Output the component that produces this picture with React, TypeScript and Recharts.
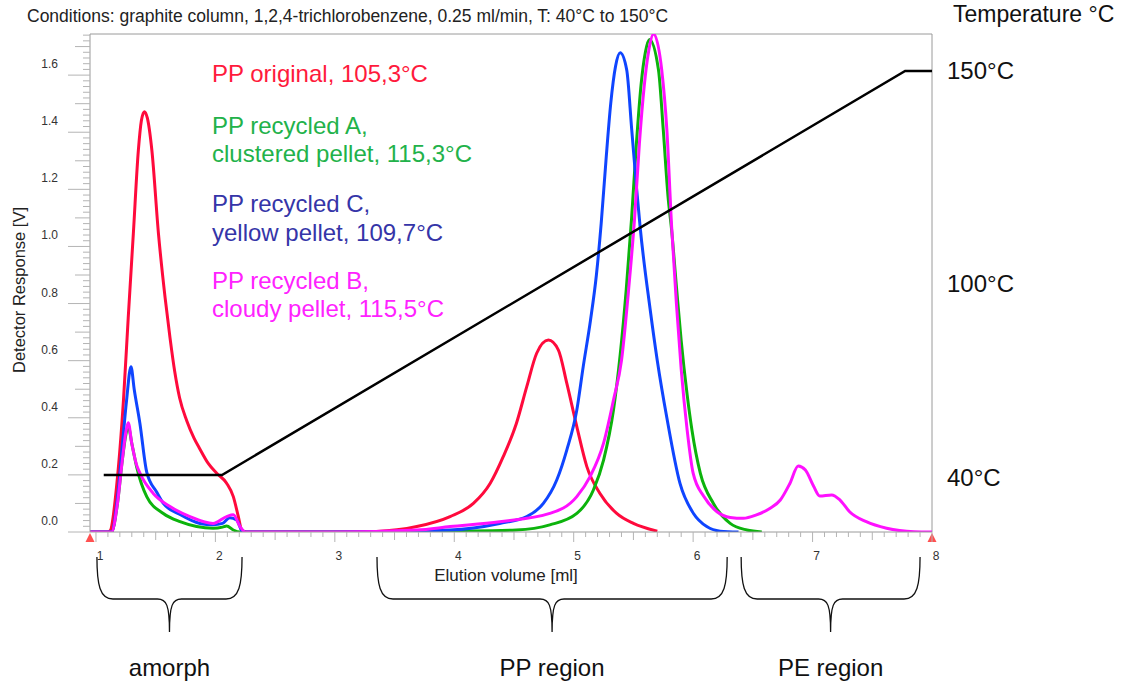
import React from "react";
import {
  LineChart,
  Line,
  XAxis,
  YAxis,
  ReferenceLine,
  ReferenceArea,
  ReferenceDot,
} from "recharts";

const FONT = '"Liberation Sans", Arial, sans-serif';

// elution volume [ml] -> detector response [V]
const ORIGINAL_X = [0.95, 1.1, 1.12, 1.175, 1.23, 1.27, 1.313, 1.355, 1.38, 1.405, 1.43, 1.468, 1.523, 1.579, 1.62, 1.66, 1.70, 1.76, 1.82, 1.871, 1.94, 2.011, 2.094, 2.15, 2.192, 2.22, 2.26, 3.0, 3.35, 3.686, 3.965, 4.16, 4.3, 4.41, 4.52, 4.607, 4.69, 4.788, 4.872, 4.942, 5.026, 5.11, 5.22, 5.36, 5.5, 5.7];
const ORIGINAL_Y = [0, 0, 0.005, 0.17, 0.46, 0.75, 1.046, 1.337, 1.44, 1.472, 1.45, 1.337, 1.046, 0.82, 0.68, 0.56, 0.47, 0.39, 0.33, 0.29, 0.24, 0.206, 0.171, 0.124, 0.054, 0.007, 0, 0, 0.002, 0.019, 0.054, 0.1, 0.17, 0.264, 0.38, 0.509, 0.626, 0.672, 0.637, 0.521, 0.369, 0.229, 0.135, 0.065, 0.03, 0.003];

const RECYCLED_A_X = [0.95, 1.13, 1.18, 1.22, 1.25, 1.27, 1.3, 1.34, 1.425, 1.564, 1.704, 1.843, 1.98, 2.06, 2.094, 2.15, 2.206, 3.0, 4.0, 4.52, 4.8, 5.026, 5.165, 5.25, 5.333, 5.389, 5.44, 5.485, 5.525, 5.565, 5.6, 5.634, 5.71, 5.75, 5.79, 5.82, 5.86, 5.9, 5.95, 5.99, 6.06, 6.17, 6.31, 6.45, 6.575];
const RECYCLED_A_Y = [0, 0, 0.1, 0.25, 0.34, 0.37, 0.31, 0.229, 0.124, 0.065, 0.036, 0.019, 0.013, 0.017, 0.021, 0.007, 0, 0, 0.003, 0.007, 0.025, 0.065, 0.147, 0.252, 0.427, 0.62, 0.85, 1.1, 1.36, 1.57, 1.68, 1.725, 1.618, 1.408, 1.174, 1.057, 0.86, 0.67, 0.48, 0.357, 0.206, 0.1, 0.03, 0.007, 0];

const RECYCLED_C_X = [0.95, 1.13, 1.18, 1.22, 1.256, 1.293, 1.32, 1.368, 1.425, 1.508, 1.564, 1.7, 1.87, 1.98, 2.06, 2.12, 2.178, 2.23, 2.27, 3.0, 3.965, 4.38, 4.607, 4.746, 4.858, 4.942, 5.026, 5.08, 5.14, 5.19, 5.23, 5.27, 5.31, 5.35, 5.389, 5.444, 5.486, 5.528, 5.556, 5.64, 5.7, 5.78, 5.89, 6.003, 6.114, 6.226, 6.38];
const RECYCLED_C_Y = [0, 0, 0.12, 0.3, 0.46, 0.579, 0.5, 0.38, 0.21, 0.14, 0.1, 0.062, 0.03, 0.025, 0.03, 0.05, 0.042, 0, 0, 0, 0.007, 0.03, 0.054, 0.1, 0.182, 0.287, 0.427, 0.58, 0.74, 0.9, 1.08, 1.3, 1.5, 1.63, 1.678, 1.618, 1.408, 1.197, 1.069, 0.78, 0.6, 0.4, 0.17, 0.065, 0.019, 0.003, 0];

const RECYCLED_B_X = [0.95, 1.13, 1.18, 1.22, 1.25, 1.27, 1.3, 1.34, 1.368, 1.48, 1.62, 1.787, 1.98, 2.094, 2.15, 2.206, 2.25, 3.0, 3.686, 3.965, 4.38, 4.8, 5.026, 5.137, 5.25, 5.333, 5.4, 5.46, 5.51, 5.55, 5.59, 5.63, 5.668, 5.737, 5.78, 5.82, 5.86, 5.9, 5.95, 6.0, 6.09, 6.2, 6.31, 6.42, 6.53, 6.645, 6.73, 6.81, 6.88, 6.94, 7.01, 7.06, 7.16, 7.23, 7.31, 7.45, 7.62, 7.85, 8.0];
const RECYCLED_B_Y = [0, 0, 0.1, 0.25, 0.35, 0.383, 0.31, 0.235, 0.206, 0.135, 0.089, 0.054, 0.03, 0.054, 0.06, 0.019, 0, 0, 0.007, 0.019, 0.036, 0.065, 0.124, 0.194, 0.311, 0.462, 0.6, 0.85, 1.1, 1.36, 1.56, 1.69, 1.744, 1.618, 1.408, 1.069, 0.8, 0.57, 0.357, 0.206, 0.124, 0.071, 0.051, 0.048, 0.06, 0.083, 0.112, 0.17, 0.231, 0.217, 0.159, 0.126, 0.13, 0.112, 0.071, 0.036, 0.013, 0.001, 0];

// temperature program [°C]
const TEMP_X = [1.065, 2.055, 7.775, 8.0];
const TEMP_Y = [40, 40, 150, 150];

const X_LABELS = [1, 2, 3, 4, 5, 6, 7, 8];
const Y_LABELS = [0, 0.2, 0.4, 0.6, 0.8, 1.0, 1.2, 1.4, 1.6];
const TEMP_LABELS = ["150°C", "100°C", "40°C"];

const REGION_NAMES = ["amorph", "PP region", "PE region"];
const REGION_FROM = [1.008, 3.353, 6.402];
const REGION_TO = [2.223, 6.285, 7.9];

const X_DOMAIN = [0.95, 8];
const Y_DOMAIN = [0, 1.744];
const TEMP_DOMAIN = [24.48, 160.07];

const toPoints = (xs: number[], ys: number[]) => xs.map((x, i) => ({ x, y: ys[i] }));

const originalData = toPoints(ORIGINAL_X, ORIGINAL_Y);
const recycledAData = toPoints(RECYCLED_A_X, RECYCLED_A_Y);
const recycledCData = toPoints(RECYCLED_C_X, RECYCLED_C_Y);
const recycledBData = toPoints(RECYCLED_B_X, RECYCLED_B_Y);
const tempData = toPoints(TEMP_X, TEMP_Y);

// minor ticks: every 0.1 ml and every 0.02 V
const xTicks: number[] = [];
for (let i = 10; i <= 80; i++) xTicks.push(i / 10);
const yTicks: number[] = [];
for (let i = 0; i <= 87; i++) yTicks.push(Math.round(i * 2) / 100);

const AXIS = "#9a9a9a";
const TICK = "#b4b4b4";

function XTick(props: any) {
  const { x, y, payload } = props;
  const v = payload.value;
  const isInt = X_LABELS.some((l) => Math.abs(l - v) < 1e-6);
  const isHalf = Math.abs(v * 2 - Math.round(v * 2)) < 1e-6;
  const len = isInt ? 10 : isHalf ? 8 : 5;
  return (
    <g>
      <line x1={x} y1={y} x2={x} y2={y + len} stroke={TICK} />
      {isInt && (
        <text x={x + 4} y={y + 28} textAnchor="middle" fontSize={12} fontFamily={FONT} fill="#333">
          {Math.round(v)}
        </text>
      )}
    </g>
  );
}

function YTick(props: any) {
  const { x, y, payload } = props;
  const v = payload.value;
  const isMajor = Y_LABELS.some((l) => Math.abs(l - v) < 1e-6);
  const isMid = Math.abs(v * 10 - Math.round(v * 10)) < 1e-6;
  const len = isMajor ? 22 : isMid ? 15 : 7;
  return (
    <g>
      <line x1={x - len} y1={y} x2={x} y2={y} stroke={TICK} />
      {isMajor && (
        <text x={x - 32} y={y - 7} textAnchor="end" fontSize={12} fontFamily={FONT} fill="#333">
          {v.toFixed(1)}
        </text>
      )}
    </g>
  );
}

function Brace(props: any) {
  const { x, y, width, height, label } = props;
  const bottom = y + height;
  const x1 = x;
  const x2 = x + width;
  const cx = x + width / 2;
  const yTop = bottom + 25;
  const yMid = bottom + 67;
  const yTip = bottom + 100;
  const d =
    `M${x1},${yTop} C${x1},${yMid - 14} ${x1 + 3},${yMid} ${x1 + 16},${yMid} ` +
    `L${cx - 12},${yMid} C${cx - 3},${yMid} ${cx},${yMid + 6} ${cx},${yTip} ` +
    `C${cx},${yMid + 6} ${cx + 3},${yMid} ${cx + 12},${yMid} ` +
    `L${x2 - 16},${yMid} C${x2 - 3},${yMid} ${x2},${yMid - 14} ${x2},${yTop}`;
  return (
    <g>
      <path d={d} fill="none" stroke="#111" strokeWidth={1.3} />
      <text x={cx} y={bottom + 144} textAnchor="middle" fontSize={24} fontFamily={FONT} fill="#111">
        {label}
      </text>
    </g>
  );
}

function Marker(props: any) {
  const { cx, cy } = props;
  return <path d={`M${cx},${cy + 1} l4.5,9 l-9,0 z`} fill="#ff5050" />;
}

const abs = (left: number, top: number, size: number, color: string): React.CSSProperties => ({
  position: "absolute",
  left,
  top,
  fontSize: size,
  color,
  fontFamily: FONT,
  lineHeight: 1,
  whiteSpace: "nowrap",
  transform: "translateY(-50%)",
});

export default function App() {
  return (
    <div style={{ position: "absolute", left: 0, top: 0, width: 1131, height: 681, background: "#fff", overflow: "hidden" }}>
      <LineChart width={1131} height={681} margin={{ top: 34, right: 199, bottom: 119, left: 30 }}>
        <XAxis
          dataKey="x"
          type="number"
          domain={X_DOMAIN}
          allowDataOverflow
          ticks={xTicks}
          interval={0}
          tick={<XTick />}
          tickLine={false}
          tickSize={0}
          tickMargin={0}
          height={30}
          stroke={AXIS}
        />
        <YAxis
          yAxisId="left"
          type="number"
          domain={Y_DOMAIN}
          allowDataOverflow
          ticks={yTicks}
          interval={0}
          tick={<YTick />}
          tickLine={false}
          tickSize={0}
          tickMargin={0}
          width={60}
          stroke={AXIS}
        />
        <YAxis yAxisId="temp" orientation="right" hide domain={TEMP_DOMAIN} allowDataOverflow />
        <ReferenceLine yAxisId="left" y={Y_DOMAIN[1]} stroke={AXIS} />
        <ReferenceLine yAxisId="left" x={X_DOMAIN[1]} stroke={AXIS} />
        {REGION_NAMES.map((name, i) => (
          <ReferenceArea
            key={name}
            yAxisId="left"
            x1={REGION_FROM[i]}
            x2={REGION_TO[i]}
            ifOverflow="visible"
            shape={(p: any) => <Brace {...p} label={name} />}
          />
        ))}
        <Line yAxisId="left" data={originalData} dataKey="y" type="monotone" stroke="#ff0a3c" strokeWidth={3} dot={false} isAnimationActive={false} />
        <Line yAxisId="left" data={recycledAData} dataKey="y" type="monotone" stroke="#0cb30c" strokeWidth={3} dot={false} isAnimationActive={false} />
        <Line yAxisId="left" data={recycledCData} dataKey="y" type="monotone" stroke="#0f45ff" strokeWidth={3} dot={false} isAnimationActive={false} />
        <Line yAxisId="left" data={recycledBData} dataKey="y" type="monotone" stroke="#ff10ff" strokeWidth={3} dot={false} isAnimationActive={false} />
        <Line yAxisId="temp" data={tempData} dataKey="y" type="linear" stroke="#000" strokeWidth={2.5} dot={false} isAnimationActive={false} />
        <ReferenceDot yAxisId="left" x={X_DOMAIN[0]} y={0} ifOverflow="visible" shape={(p: any) => <Marker {...p} />} />
        <ReferenceDot yAxisId="left" x={X_DOMAIN[1]} y={0} ifOverflow="visible" shape={(p: any) => <Marker {...p} />} />
      </LineChart>

      <div style={abs(27, 17, 17.5, "#222")}>
        Conditions: graphite column, 1,2,4-trichlorobenzene, 0.25 ml/min, T: 40°C to 150°C
      </div>
      <div style={abs(953, 14, 23, "#111")}>Temperature °C</div>
      <div style={abs(947, 71, 24, "#111")}>{TEMP_LABELS[0]}</div>
      <div style={abs(947, 284, 24, "#111")}>{TEMP_LABELS[1]}</div>
      <div style={abs(947, 478, 24, "#111")}>{TEMP_LABELS[2]}</div>

      <div style={abs(212, 74, 24, "#ff1a3c")}>PP original, 105,3°C</div>
      <div style={abs(212, 126, 24, "#22b24a")}>PP recycled A,</div>
      <div style={abs(212, 154, 24, "#22b24a")}>clustered pellet, 115,3°C</div>
      <div style={abs(212, 204, 24, "#3535a8")}>PP recycled C,</div>
      <div style={abs(212, 233, 24, "#3535a8")}>yellow pellet, 109,7°C</div>
      <div style={abs(212, 281, 24, "#ff22ff")}>PP recycled B,</div>
      <div style={abs(212, 309, 24, "#ff22ff")}>cloudy pellet, 115,5°C</div>

      <div
        style={{
          position: "absolute",
          left: 19,
          top: 290,
          fontSize: 16.5,
          fontFamily: FONT,
          color: "#222",
          lineHeight: 1,
          whiteSpace: "nowrap",
          transform: "translate(-50%, -50%) rotate(-90deg)",
        }}
      >
        Detector Response [V]
      </div>
      <div
        style={{
          position: "absolute",
          left: 506,
          top: 575,
          fontSize: 17,
          fontFamily: FONT,
          color: "#222",
          lineHeight: 1,
          whiteSpace: "nowrap",
          transform: "translate(-50%, -50%)",
        }}
      >
        Elution volume [ml]
      </div>
    </div>
  );
}
